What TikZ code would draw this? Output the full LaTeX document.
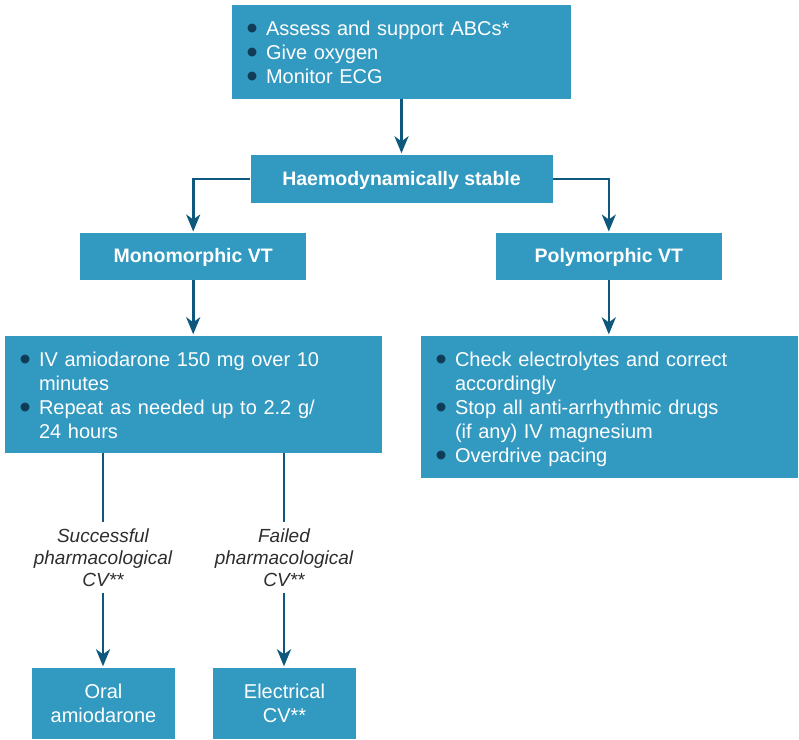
\documentclass[tikz,border=0pt]{standalone}
\usepackage{fontspec}
\setmainfont{Liberation Sans}
\newfontfamily\dejavu{DejaVu Sans}
\usetikzlibrary{arrows.meta}
\definecolor{boxcol}{RGB}{50,153,192}
\definecolor{arrcol}{RGB}{14,88,125}
\definecolor{bulcol}{RGB}{16,60,88}
\definecolor{labcol}{RGB}{45,45,45}
\newcommand\bl{\makebox[19pt][l]{\hspace{0pt}\textcolor{bulcol}{\raisebox{3.8pt}{\dejavu\fontsize{11.5}{12}\selectfont ●}}}}
\begin{document}
\begin{tikzpicture}[x=1pt,y=-1pt,
  box/.style={fill=boxcol, draw=none, text=white, inner sep=0pt, font=\fontsize{20}{24}\selectfont},
  single/.style={box, text height=14.4pt, text depth=2.4pt, font=\fontsize{19.5}{24}\selectfont\bfseries},
  listbox/.style={box, align=left, inner xsep=15pt, inner ysep=0pt},
  endbox/.style={box, align=center, minimum width=143pt, minimum height=71pt},
  conn/.style={draw=arrcol, line width=2.6pt},
  arr/.style={conn, -{Stealth[length=17pt,width=14pt,inset=5pt]}, shorten >=1.5pt},
  lab/.style={font=\fontsize{19}{22.2}\selectfont\itshape, text=labcol, align=center, inner sep=0pt, minimum height=70pt}]

\useasboundingbox (0,0) rectangle (799,739);

\node[listbox, text width=309pt, minimum height=94pt] (top) at (401.5,52)
  {\vspace*{-5.4pt}\begin{tabular}{@{}l@{}l@{}}\bl&Assess and support ABCs*\\\bl&Give oxygen\\\bl&Monitor ECG\end{tabular}};

\node[single, minimum width=302pt, minimum height=48pt] (haemo) at (401.5,179) {Haemodynamically stable};
\node[single, minimum width=226.5pt, minimum height=47pt] (mono) at (193.2,256.7) {Monomorphic VT};
\node[single, minimum width=225.5pt, minimum height=47pt] (poly) at (608.8,256.7) {Polymorphic VT};

\node[listbox, text width=346.5pt, minimum height=117.3pt] (left) at (193.25,394.6)
  {\vspace*{-5.4pt}\begin{tabular}{@{}l@{}l@{}}\bl&IV amiodarone 150 mg over 10\\&minutes\\\bl&Repeat as needed up to 2.2 g/\\&24 hours\end{tabular}};

\node[listbox, text width=347pt, minimum height=142.3pt] (right) at (609.5,407.2)
  {\vspace*{-5.4pt}\begin{tabular}{@{}l@{}l@{}}\bl&Check electrolytes and correct\\&accordingly\\\bl&Stop all anti-arrhythmic drugs\\&(if any) IV magnesium\\\bl&Overdrive pacing\end{tabular}};

\node[lab] (slab) at (103,557.5) {Successful\\pharmacological\\CV**};
\node[lab] (flab) at (284,557.5) {Failed\\pharmacological\\CV**};

\node[endbox] (oral) at (103.5,703.5) {Oral\\amiodarone};
\node[endbox] (elec) at (284.5,703.5) {Electrical\\CV**};

\draw[arr] (top.south) -- (top.south |- haemo.north);
\draw[arr] (haemo.west) -| (mono.north);
\draw[arr] (haemo.east) -| (poly.north);
\draw[arr] (mono.south) -- (mono.south |- left.north);
\draw[arr] (poly.south) -- (poly.south |- right.north);
\draw[conn] (left.south -| slab.north) -- (slab.north);
\draw[arr] (slab.south) -- (slab.south |- oral.north);
\draw[conn] (left.south -| flab.north) -- (flab.north);
\draw[arr] (flab.south) -- (flab.south |- elec.north);
\end{tikzpicture}
\end{document}
